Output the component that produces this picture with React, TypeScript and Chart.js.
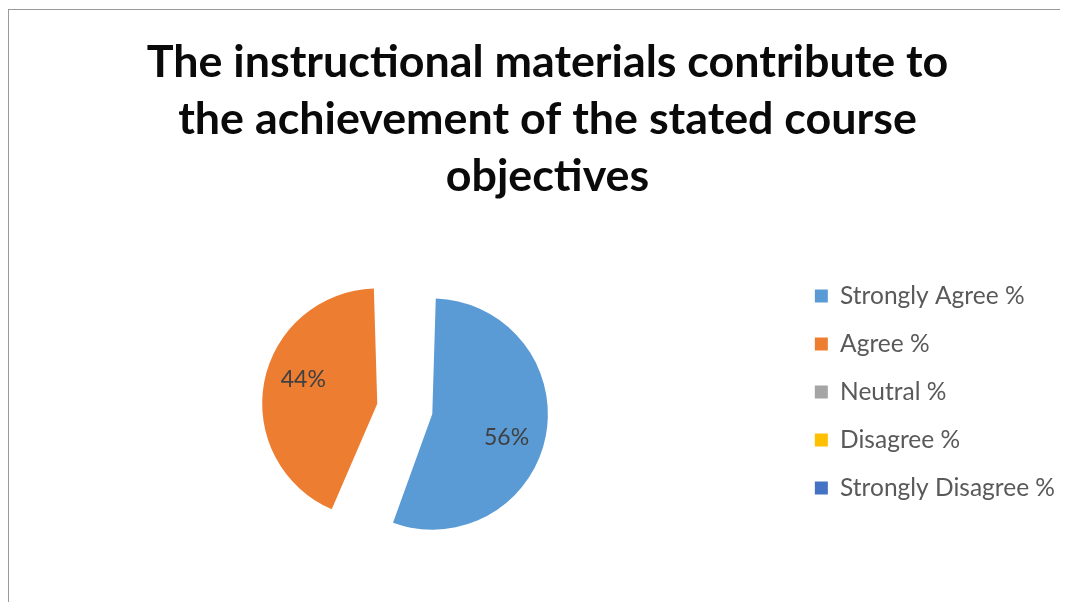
import React, { useEffect, useRef } from 'react';
import { Chart, registerables } from 'chart.js';

Chart.register(...registerables);

const TITLE_LINES = [
  'The instructional materials contribute to',
  'the achievement of the stated course',
  'objectives',
];
const CATEGORIES = ['Strongly Agree %', 'Agree %', 'Neutral %', 'Disagree %', 'Strongly Disagree %'];
const VALUES = [56, 44, 0, 0, 0];
const COLORS = ['#5B9BD5', '#ED7D31', '#A5A5A5', '#FFC000', '#4472C4'];
const EXPLODE = [88, 136, 0, 0, 0];
const LABEL_NUDGE = (7 * Math.PI) / 180;

const sliceLabels = {
  id: 'sliceLabels',
  afterDatasetsDraw(chart: any) {
    const { ctx } = chart;
    const meta = chart.getDatasetMeta(0);
    const data = chart.data.datasets[0].data as number[];
    const total = data.reduce((a, b) => a + b, 0);
    ctx.save();
    ctx.font = '23px Lato';
    ctx.fillStyle = '#404040';
    ctx.textAlign = 'center';
    ctx.textBaseline = 'middle';
    meta.data.forEach((el: any, i: number) => {
      const v = data[i];
      if (!v) return;
      const { x, y, startAngle, endAngle, outerRadius, circumference } = el.getProps(
        ['x', 'y', 'startAngle', 'endAngle', 'outerRadius', 'circumference'],
        true
      );
      const t = (el.options.offset || 0) / 4;
      const mid = (startAngle + endAngle) / 2;
      const fix = 1 - Math.sin(Math.min(Math.PI, circumference));
      const r = outerRadius + t * fix;
      const ax = x + Math.cos(mid) * t;
      const ay = y + Math.sin(mid) * t;
      const a = mid + LABEL_NUDGE;
      ctx.fillText(`${Math.round((v / total) * 100)}%`, ax + Math.cos(a) * r * 0.675, ay + Math.sin(a) * r * 0.675);
    });
    ctx.restore();
  },
};

export default function App() {
  const ref = useRef<HTMLCanvasElement | null>(null);
  useEffect(() => {
    if (!ref.current) return;
    const chart = new Chart(ref.current, {
      type: 'pie',
      data: {
        labels: CATEGORIES,
        datasets: [
          {
            data: VALUES,
            backgroundColor: COLORS,
            borderWidth: 0,
            offset: EXPLODE,
            radius: 93.6,
            clip: false,
          } as any,
        ],
      },
      options: {
        animation: false,
        responsive: true,
        maintainAspectRatio: false,
        layout: { padding: { left: 21, right: 3, top: 0, bottom: 43.25 } },
        plugins: {
          title: {
            display: true,
            text: TITLE_LINES,
            color: '#0a0a0a',
            font: { family: 'Lato', size: 44.8, weight: 'bold', lineHeight: 57 / 44.8 },
            padding: { top: 24, bottom: 55.25 },
          },
          legend: {
            position: 'right',
            align: 'start',
            fullSize: false,
            labels: {
              boxWidth: 13,
              boxHeight: 13,
              padding: 23.5,
              color: '#595959',
              font: { family: 'Lato', size: 24.5 },
            },
          },
          tooltip: { enabled: false },
        },
      } as any,
      plugins: [sliceLabels],
    });
    return () => chart.destroy();
  }, []);
  return (
    <div
      style={{
        width: 1060,
        height: 594,
        borderTop: '1px solid #9a9a9a',
        borderLeft: '1px solid #9a9a9a',
        boxSizing: 'border-box',
        marginTop: 1,
      }}
    >
      <div style={{ position: 'relative', width: 1059, height: 593 }}>
        <canvas ref={ref} />
      </div>
    </div>
  );
}
